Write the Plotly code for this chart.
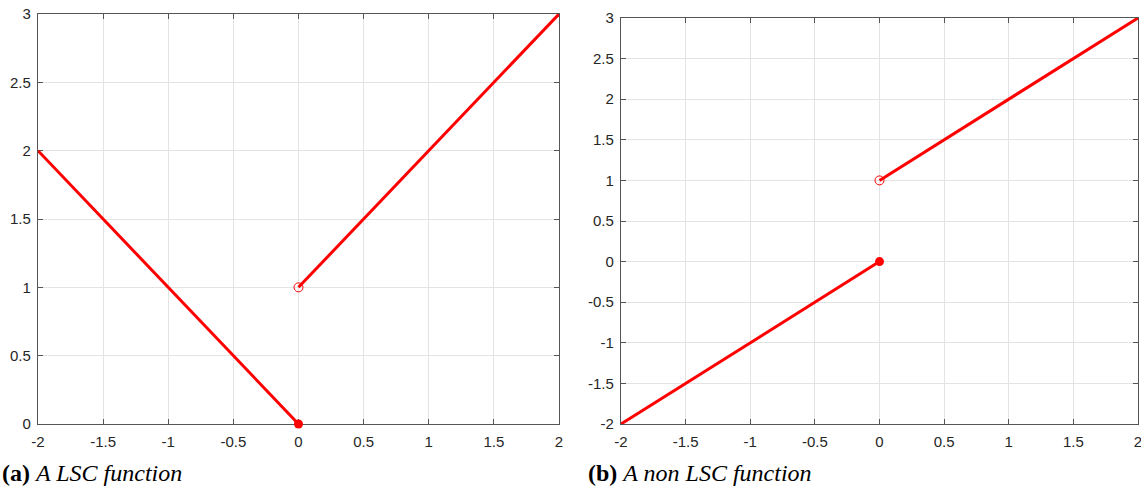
import plotly.graph_objects as go

# Data
x_left_a = [-2, 0]
y_left_a = [2, 0]
x_right_a = [0, 2]
y_right_a = [1, 3]

x_left_b = [-2, 0]
y_left_b = [-2, 0]
x_right_b = [0, 2]
y_right_b = [1, 3]

closed_pts_a = ([0], [0])
open_pts_a = ([0], [1])
closed_pts_b = ([0], [0])
open_pts_b = ([0], [1])

xticks = [-2, -1.5, -1, -0.5, 0, 0.5, 1, 1.5, 2]
yticks_a = [0, 0.5, 1, 1.5, 2, 2.5, 3]
yticks_b = [-2, -1.5, -1, -0.5, 0, 0.5, 1, 1.5, 2, 2.5, 3]

captions = [("<b>(a)</b> <i>A LSC function</i>", 0), ("<b>(b)</b> <i>A non LSC function</i>", 586)]

W, H = 1141, 487
RED = "#ff0000"

fig = go.Figure()

def add_panel(xa, ya, segs, closed, opened):
    for xs, ys in segs:
        fig.add_trace(go.Scatter(x=xs, y=ys, mode="lines", line=dict(color=RED, width=3),
                                 xaxis=xa, yaxis=ya, showlegend=False, hoverinfo="skip",
                                 cliponaxis=False))
    fig.add_trace(go.Scatter(x=closed[0], y=closed[1], mode="markers",
                             marker=dict(color=RED, size=9, line=dict(width=0)),
                             xaxis=xa, yaxis=ya, showlegend=False, cliponaxis=False))
    fig.add_trace(go.Scatter(x=opened[0], y=opened[1], mode="markers",
                             marker=dict(color="rgba(0,0,0,0)", size=9, line=dict(color=RED, width=1)),
                             xaxis=xa, yaxis=ya, showlegend=False, cliponaxis=False))

add_panel("x", "y", [(x_left_a, y_left_a), (x_right_a, y_right_a)], closed_pts_a, open_pts_a)
add_panel("x2", "y2", [(x_left_b, y_left_b), (x_right_b, y_right_b)], closed_pts_b, open_pts_b)

axis_common = dict(
    showgrid=True, gridcolor="#e3e3e3", gridwidth=1,
    showline=True, linecolor="#555555", linewidth=1.3, mirror="ticks",
    ticks="inside", ticklen=5, tickcolor="#555555", tickwidth=1,
    zeroline=False, tickfont=dict(family="Liberation Sans, Arial", size=15, color="#262626"),
    fixedrange=True, automargin=False, layer="below traces", ticklabeloverflow="allow",
)

def xd(a, b):
    return [a / W, b / W]

def yd(top, bottom):
    return [1 - bottom / H, 1 - top / H]

fig.update_layout(
    width=W, height=H,
    margin=dict(l=0, r=0, t=0, b=0),
    paper_bgcolor="white", plot_bgcolor="white",
    xaxis=dict(domain=xd(38, 559), range=[-2, 2], tickvals=xticks,
               ticktext=[f"{v:g}" for v in xticks], anchor="y", ticklabelstandoff=4, **axis_common),
    yaxis=dict(domain=yd(14, 424), range=[0, 3], tickvals=yticks_a,
               ticktext=[f"{v:g}" for v in yticks_a], anchor="x", ticklabelstandoff=3, **axis_common),
    xaxis2=dict(domain=xd(621, 1138), range=[-2, 2], tickvals=xticks,
                ticktext=[f"{v:g}" for v in xticks], anchor="y2", ticklabelstandoff=4, **axis_common),
    yaxis2=dict(domain=yd(18, 424), range=[-2, 3], tickvals=yticks_b,
                ticktext=[f"{v:g}" for v in yticks_b], anchor="x2", ticklabelstandoff=3, **axis_common),
)

for text, xpx in captions:
    fig.add_annotation(text=text, x=xpx / W, y=1 - 473 / H, xref="paper", yref="paper",
                       xanchor="left", yanchor="middle", showarrow=False,
                       font=dict(family="Liberation Serif, Times New Roman", size=24, color="black"))

fig.write_html("out.html")
